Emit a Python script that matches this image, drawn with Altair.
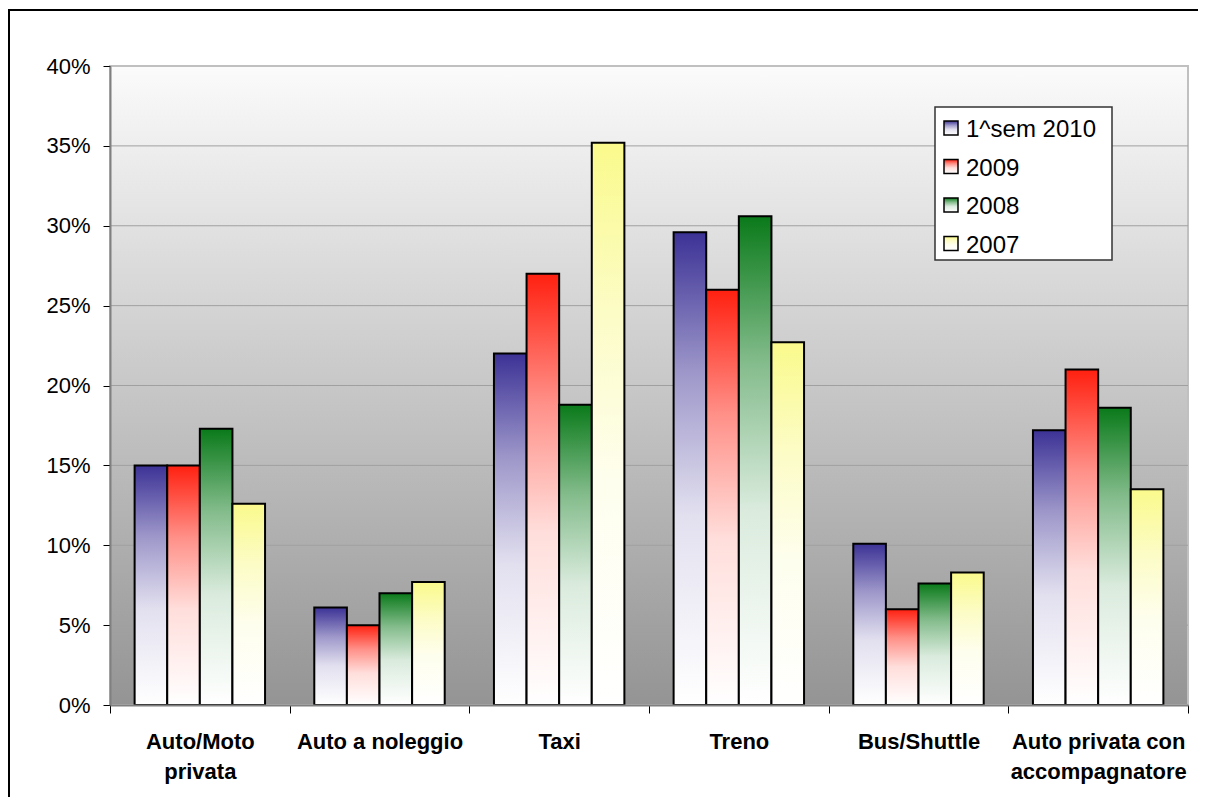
import altair as alt
import pandas as pd

categories = ["Auto/Moto|privata", "Auto a  noleggio", "Taxi", "Treno",
              "Bus/Shuttle", "Auto privata con|accompagnatore"]
series = ["1^sem 2010", "2009", "2008", "2007"]
s2010 = [15.0, 6.1, 22.0, 29.6, 10.1, 17.2]
s2009 = [15.0, 5.0, 27.0, 26.0, 6.0, 21.0]
s2008 = [17.3, 7.0, 18.8, 30.6, 7.6, 18.6]
s2007 = [12.6, 7.7, 35.2, 22.7, 8.3, 13.5]
tick_values = [0, 5, 10, 15, 20, 25, 30, 35, 40]

top_colors = ["#3c3296", "#ff2010", "#0a7a1a", "#fafa8c"]

rows = []
for s, vals in zip(series, [s2010, s2009, s2008, s2007]):
    for c, v in zip(categories, vals):
        rows.append({"cat": c, "series": s, "value": v})
df = pd.DataFrame(rows)


def mix(hex_color, t):
    h = hex_color.lstrip("#")
    r, g, b = (int(h[i:i + 2], 16) for i in (0, 2, 4))
    r = round(r + (255 - r) * t)
    g = round(g + (255 - g) * t)
    b = round(b + (255 - b) * t)
    return "#%02x%02x%02x" % (r, g, b)


def grad(col):
    return alt.LinearGradient(
        gradient="linear", x1=0, y1=0, x2=0, y2=1,
        stops=[alt.GradientStop(offset=0, color=col),
               alt.GradientStop(offset=0.3, color=mix(col, 0.5)),
               alt.GradientStop(offset=0.6, color=mix(col, 0.85)),
               alt.GradientStop(offset=1, color="#ffffff")])


W, H = 1078, 639

x_enc = alt.X("cat:N", sort=categories,
              scale=alt.Scale(paddingInner=0, paddingOuter=0),
              axis=alt.Axis(title=None, labelAngle=0, labelFontWeight="bold",
                            labelFontSize=22, labelColor="black",
                            labelExpr="split(datum.label, '|')",
                            labelLineHeight=30, labelPadding=18,
                            labelBaseline="top",
                            tickBand="extent", tickSize=8, tickColor="black",
                            domainColor="#808080", domainWidth=2,
                            grid=False, zindex=1, labelLimit=400))
y_axis = alt.Axis(title=None, values=tick_values,
                  labelExpr="datum.value + '%'",
                  labelFontSize=22, labelColor="black",
                  labelPadding=13, tickSize=7, tickColor="black",
                  domainColor="#808080", domainWidth=2,
                  grid=False, zindex=1)
y_scale = alt.Scale(domain=[0, 40], nice=False)
y_enc = alt.Y("value:Q", scale=y_scale, axis=y_axis)
xo_enc = alt.XOffset("series:N", sort=series,
                     scale=alt.Scale(domain=series, paddingInner=0, paddingOuter=0.755))

one = pd.DataFrame({"a": [0]})

bg = alt.Chart(one).mark_rect(
    color=alt.LinearGradient(
        gradient="linear", x1=0, y1=0, x2=0, y2=1,
        stops=[alt.GradientStop(offset=0, color="#fbfbfb"),
               alt.GradientStop(offset=1, color="#949494")]),
    stroke="#c0c0c0", strokeWidth=2
).encode(x=alt.value(0), x2=alt.value("width"), y=alt.value(0), y2=alt.value("height"))

grid = alt.Chart(pd.DataFrame({"value": tick_values[1:-1]})).mark_rule(
    color="#a0a0a0", strokeWidth=1
).encode(y=y_enc)

base = alt.Chart(df).encode(x=x_enc, y=y_enc, xOffset=xo_enc)

bar_layers = []
for s, col in zip(series, top_colors):
    bar_layers.append(
        base.transform_filter(alt.datum.series == s)
        .mark_bar(color=grad(col), stroke="black", strokeWidth=2)
    )

# legend (drawn inside the plot, top right)
LX, LY, LW, LH = 825, 41, 177, 153
ROW0, ROWSTEP = 62, 38.5
legend_layers = [
    alt.Chart(one).mark_rect(fill="white", stroke="#333333", strokeWidth=1.5)
    .encode(x=alt.value(LX), x2=alt.value(LX + LW), y=alt.value(LY), y2=alt.value(LY + LH))
]
for i, (s, col) in enumerate(zip(series, top_colors)):
    cy = ROW0 + i * ROWSTEP
    legend_layers.append(
        alt.Chart(one).mark_rect(color=grad(col), stroke="black", strokeWidth=1.5)
        .encode(x=alt.value(LX + 9), x2=alt.value(LX + 23),
                y=alt.value(cy - 7), y2=alt.value(cy + 7))
    )
    legend_layers.append(
        alt.Chart(one).mark_text(text=s, align="left", baseline="alphabetic",
                                 fontSize=24, color="black", font="Liberation Sans")
        .encode(x=alt.value(LX + 31), y=alt.value(cy + 9))
    )

border = alt.Chart(one).mark_rect(
    fillOpacity=0, stroke="black", strokeWidth=2, clip=False
).encode(x=alt.value(-101), y=alt.value(-56), x2=alt.value(W + 300), y2=alt.value(H + 300))

chart = alt.layer(bg, grid, *bar_layers, *legend_layers, border).properties(
    width=W, height=H,
    autosize=alt.AutoSizeParams(type="none"),
    padding={"left": 102, "top": 58, "right": 10, "bottom": 92},
    background="white"
).configure_view(stroke=None).configure(font="Liberation Sans")

chart.save("out.html", embed_options={"renderer": "svg", "actions": False})
